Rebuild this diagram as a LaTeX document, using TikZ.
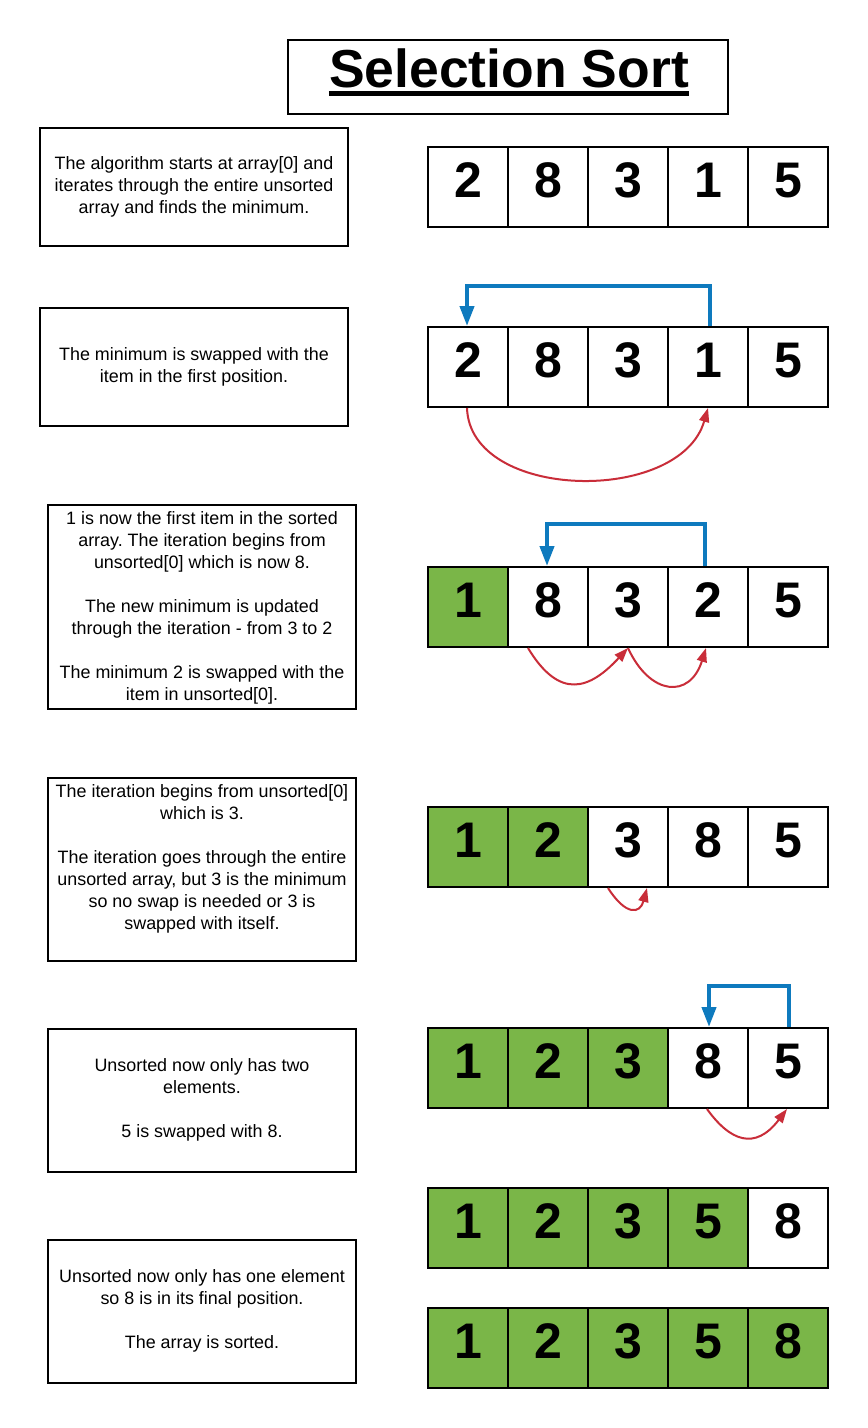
\documentclass[tikz,border=0pt]{standalone}
\usepackage{fontspec}
\setmainfont{Liberation Sans}
\usetikzlibrary{arrows.meta}
\definecolor{cellgreen}{RGB}{122,182,72}
\definecolor{arrblue}{RGB}{14,122,190}
\definecolor{arrred}{RGB}{201,45,57}
\frenchspacing
\begin{document}
\begin{tikzpicture}[x=1pt,y=-1pt,
  box/.style={draw, line width=2pt, minimum width=308pt, inner sep=0pt},
  txt/.style={align=center, inner sep=0pt, font=\fontsize{17.9}{22}\selectfont},
  cell/.style={draw, line width=2pt, minimum width=80pt, minimum height=80pt, inner sep=0pt,
    text depth=14pt, font=\fontsize{50}{50}\selectfont\bfseries},
  bluearr/.style={draw=arrblue, line width=4pt, -{Triangle[length=20pt,width=14pt]}},
  redarr/.style={draw=arrred, line width=2pt, -{Triangle[length=14pt,width=10pt]}}]
\useasboundingbox (0,0) rectangle (868,1428);
\fill[white] (0,0) rectangle (868,1428);

% title
\node[draw, line width=2pt, minimum width=440pt, minimum height=74pt] (titlebox) at (508,77) {};
\node[anchor=base, inner sep=0pt, font=\fontsize{53.5}{53.5}\selectfont\bfseries] (title) at (509,87) {Selection Sort};
\draw[line width=5pt] ([yshift=-6pt]title.base west) -- ([yshift=-6pt]title.base east);

% description boxes
\node[box, minimum height=118pt] (b1) at (194,187) {};
\node[txt] (t1) at (194,187) {The algorithm starts at array[0] and\\iterates through the entire unsorted\\array and finds the minimum.};
\node[box, minimum height=118pt] (b2) at (194,367) {};
\node[txt] (t2) at (194,367) {The minimum is swapped with the\\item in the first position.};
\node[box, minimum height=204pt] (b3) at (202,607) {};
\node[txt] (t3) at (202,607.5) {1 is now the first item in the sorted\\array. The iteration begins from\\unsorted[0] which is now 8.\\[22pt]The new minimum is updated\\through the iteration - from 3 to 2\\[22pt]The minimum 2 is swapped with the\\item in unsorted[0].};
\node[box, minimum height=183pt] (b4) at (202,869.5) {};
\node[txt] (t4) at (202,858.5) {The iteration begins from unsorted[0]\\which is 3.\\[22pt]The iteration goes through the entire\\unsorted array, but 3 is the minimum\\so no swap is needed or 3 is\\swapped with itself.};
\node[box, minimum height=143pt] (b5) at (202,1100.5) {};
\node[txt] (t5) at (202,1099.5) {Unsorted now only has two\\elements.\\[22pt]5 is swapped with 8.};
\node[box, minimum height=143pt] (b6) at (202,1311.5) {};
\node[txt] (t6) at (202,1310.5) {Unsorted now only has one element\\so 8 is in its final position.\\[22pt]The array is sorted.};

% arrays
\foreach \r/\y/\vals/\ng in {1/147/{2,8,3,1,5}/0, 2/327/{2,8,3,1,5}/0, 3/567/{1,8,3,2,5}/1,
    4/807/{1,2,3,8,5}/2, 5/1028/{1,2,3,8,5}/3, 6/1188/{1,2,3,5,8}/4, 7/1308/{1,2,3,5,8}/5}{
  \foreach \v [count=\i] in \vals {
    \ifnum\i>\ng \def\fc{white}\else\def\fc{cellgreen}\fi
    \node[cell, fill=\fc] (r\r c\i) at ({388+80*\i},{\y+40}) {\v};
  }
}

% blue arrows
\draw[bluearr] ([xshift=2pt]r2c4.north) -- ++(0,-40) -| ([xshift=-1pt]r2c1.north);
\draw[bluearr] ([xshift=-3pt]r3c4.north) -- ++(0,-42) -| ([xshift=-1pt]r3c2.north);
\draw[bluearr] ([xshift=1pt]r5c5.north) -- ++(0,-41) -| ([xshift=1pt]r5c4.north);

% red arrows
\draw[redarr] ([xshift=-1pt]r2c1.south) .. controls +(3,93) and +(-28,97) .. (r2c4.south);
\draw[redarr] ([xshift=-20pt]r3c2.south) .. controls +(32,53) and +(-38,41) .. (r3c3.south);
\draw[redarr] (r3c3.south) .. controls +(22,48) and +(-16,51) .. ([xshift=-2pt]r3c4.south);
\draw[redarr] ([xshift=19pt]r4c2.south east) .. controls +(18,28) and +(-7,26) .. ([xshift=19pt]r4c3.south);
\draw[redarr] ([xshift=-1pt]r5c4.south) .. controls +(23,32) and +(-32,42) .. ([xshift=-1pt]r5c5.south);
\end{tikzpicture}
\end{document}
